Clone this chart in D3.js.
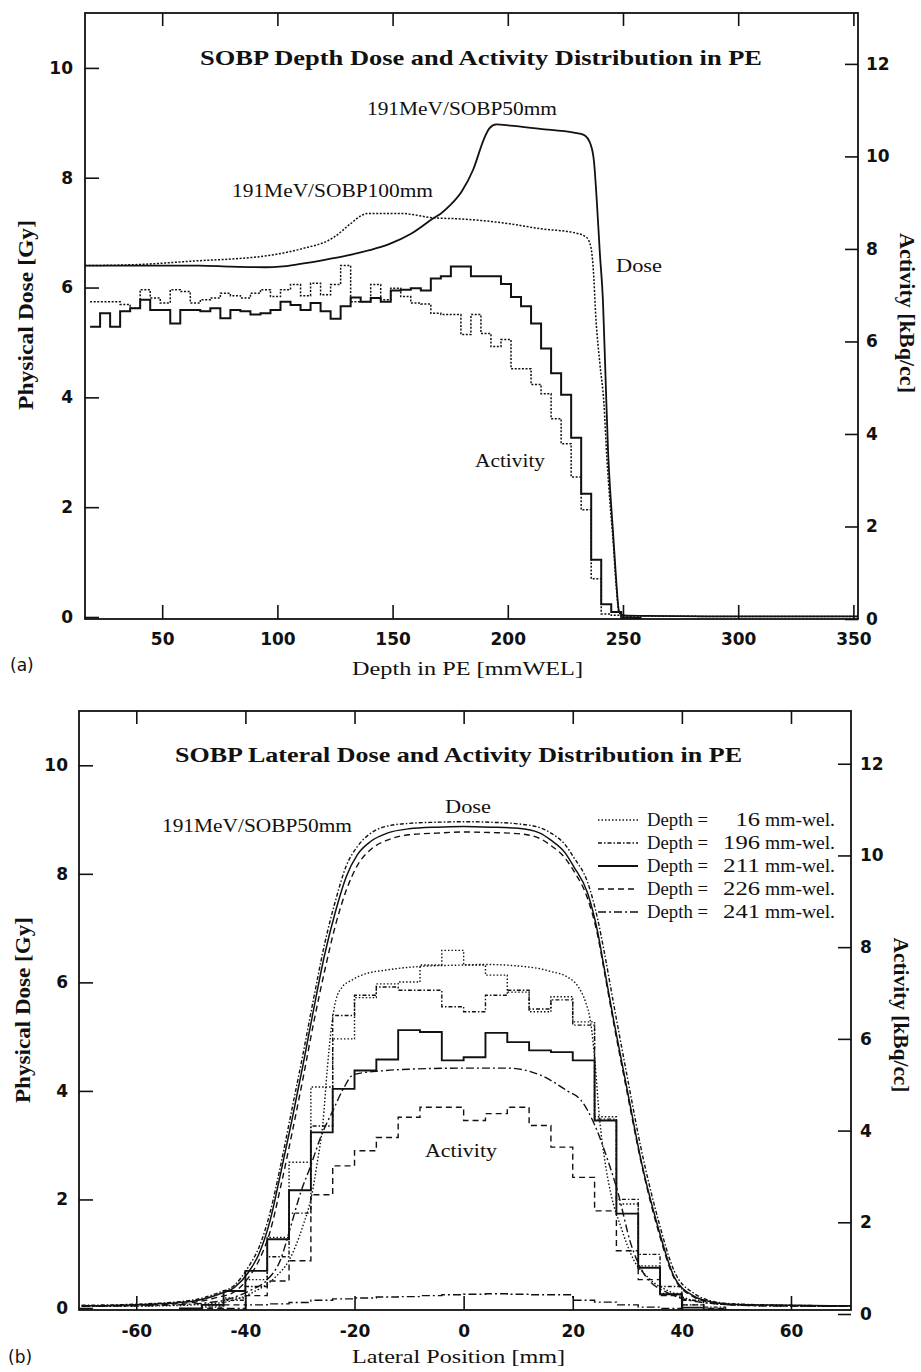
<!DOCTYPE html>
<html>
<head>
<meta charset="utf-8">
<script src="https://cdn.jsdelivr.net/npm/d3@7"></script>
<style>
  body { margin: 0; background: #fff; }
  svg { display: block; }
  .tick-label { font-family: "DejaVu Sans", sans-serif; font-weight: bold; font-size: 17px; fill: #111; }
  .serif { font-family: "Liberation Serif", "Times New Roman", serif; fill: #111; }
  .sans { font-family: "DejaVu Sans", sans-serif; fill: #111; }
</style>
</head>
<body>
<svg id="chart" width="921" height="1372"></svg>
<script>
// ---------- data: (a) depth distributions ----------
const depthTicks = [50, 100, 150, 200, 250, 300, 350];
const doseTicks = [0, 2, 4, 6, 8, 10];
const activityTicks = [0, 2, 4, 6, 8, 10, 12];

// 191MeV / SOBP 50mm depth dose [Gy]
const doseDepth50 = [16.5, 30, 50, 66, 80, 95, 101, 110, 120, 130, 140, 149, 158, 168, 171, 175, 180, 185, 189.6, 192, 195, 201, 214, 228.7, 233, 236, 237.4, 238.6, 240, 241.3, 242.4, 243.5, 244.6, 245.7, 247, 248.3, 250, 260, 300, 352];
const dose50 = [6.40, 6.40, 6.40, 6.40, 6.38, 6.37, 6.38, 6.43, 6.50, 6.58, 6.68, 6.80, 6.98, 7.27, 7.35, 7.50, 7.75, 8.15, 8.70, 8.90, 8.97, 8.95, 8.89, 8.82, 8.78, 8.60, 8.30, 7.60, 6.60, 5.76, 4.40, 3.04, 2.20, 1.53, 0.70, 0.10, 0.03, 0.02, 0.01, 0.01];

// 191MeV / SOBP 100mm depth dose [Gy]
const doseDepth100 = [16.5, 40, 66.5, 80, 95.6, 110, 124.3, 131.7, 136, 139, 153.5, 167.8, 179.6, 201, 214.3, 228.7, 234, 236, 237, 238.3, 240, 241.7, 243, 244.5, 245.7, 247, 248.3, 252, 300, 352];
const dose100 = [6.40, 6.42, 6.49, 6.52, 6.58, 6.70, 6.91, 7.16, 7.30, 7.35, 7.35, 7.27, 7.25, 7.16, 7.07, 7.00, 6.92, 6.75, 6.40, 5.40, 4.60, 3.90, 2.90, 2.00, 1.40, 0.60, 0.08, 0.02, 0.01, 0.01];

// activity histograms [kBq/cc], bins of 4.35 mm starting at 18.7 mm
const depthBinStart = 18.7;
const depthBinWidth = 4.35;
const activity50 = [6.32, 6.61, 6.32, 6.65, 6.72, 6.90, 6.68, 6.68, 6.39, 6.68, 6.68, 6.65, 6.72, 6.50, 6.68, 6.65, 6.58, 6.61, 6.68, 6.86, 6.79, 6.68, 6.83, 6.65, 6.49, 6.76, 6.95, 6.86, 6.94, 6.86, 7.10, 7.12, 7.15, 7.10, 7.36, 7.41, 7.62, 7.62, 7.41, 7.41, 7.41, 7.24, 6.96, 6.76, 6.39, 5.85, 5.31, 4.85, 3.92, 2.71, 1.28, 0.32, 0.15, 0.03, 0.02];
const activity100 = [6.86, 6.86, 6.86, 6.80, 6.72, 7.12, 6.94, 6.83, 7.12, 7.08, 6.83, 6.90, 6.94, 7.04, 6.99, 6.94, 7.04, 7.12, 6.97, 7.12, 7.23, 6.99, 7.26, 7.01, 7.23, 7.64, 6.86, 6.86, 7.23, 6.90, 7.15, 6.97, 6.83, 6.81, 6.61, 6.58, 6.58, 6.15, 6.58, 6.17, 5.89, 6.04, 5.41, 5.41, 5.07, 4.87, 4.33, 3.79, 3.07, 2.36, 0.87, 0.11, 0.08, 0.03, 0.02];

// ---------- data: (b) lateral distributions ----------
const lateralTicks = [-60, -40, -20, 0, 20, 40, 60];
const depthLabels = ['16', '196', '211', '226', '241'];

const latDoseX16 = [-70, -55, -45, -39, -34.5, -32, -29.5, -27.8, -26.8, -25.8, -25, -24.2, -23.4, -22.2, -20.7, -17.6, -14.7, -8.5, 0, 3.7, 12.9, 16, 19, 21, 22.3, 23.3, 24.1, 24.9, 25.9, 27, 28.8, 31.2, 33.7, 38.5, 44.8, 55, 71];
const latDose16 = [0.03, 0.04, 0.09, 0.27, 0.57, 0.88, 1.5, 2.1, 2.7, 3.4, 4.4, 5.2, 5.68, 5.92, 6.03, 6.17, 6.22, 6.29, 6.32, 6.33, 6.27, 6.2, 6.1, 5.92, 5.65, 5.25, 4.5, 3.5, 2.7, 2.1, 1.5, 0.88, 0.57, 0.27, 0.09, 0.04, 0.03];

const latDoseX = [-70, -60, -50, -45, -42, -39.5, -37.5, -35.5, -33.5, -31.5, -29.5, -27.5, -25.5, -23.5, -21.5, -19.5, -17, -14, -10, -5, 0, 5, 10, 14, 16, 18.5, 20.2, 22.7, 24.6, 25.7, 27.5, 30.1, 32.5, 35.6, 38.6, 42.2, 45, 49, 60, 71];
const latDose196 = [0.05, 0.07, 0.14, 0.28, 0.42, 0.75, 1.12, 1.75, 2.65, 3.65, 4.65, 5.7, 6.7, 7.5, 8.15, 8.5, 8.75, 8.88, 8.93, 8.95, 8.96, 8.95, 8.92, 8.85, 8.75, 8.55, 8.3, 7.85, 7.15, 6.6, 5.6, 4.2, 2.95, 1.65, 0.68, 0.27, 0.14, 0.08, 0.05, 0.04];
const latDose211 = [0.04, 0.06, 0.12, 0.25, 0.38, 0.65, 1.0, 1.6, 2.5, 3.45, 4.45, 5.5, 6.5, 7.3, 7.95, 8.35, 8.6, 8.75, 8.83, 8.86, 8.87, 8.86, 8.84, 8.75, 8.62, 8.4, 8.13, 7.65, 6.91, 6.3, 5.3, 3.96, 2.73, 1.5, 0.57, 0.22, 0.12, 0.07, 0.05, 0.04];
const latDose226 = [0.04, 0.05, 0.1, 0.2, 0.3, 0.55, 0.88, 1.4, 2.25, 3.2, 4.2, 5.25, 6.2, 7.05, 7.7, 8.15, 8.45, 8.62, 8.72, 8.75, 8.77, 8.76, 8.74, 8.65, 8.52, 8.3, 8.05, 7.55, 6.85, 6.25, 5.25, 3.9, 2.7, 1.45, 0.55, 0.2, 0.11, 0.06, 0.04, 0.03];

const latDoseX241 = [-70, -55, -45, -42, -39, -36, -33.6, -31.7, -29.9, -28.1, -26.2, -23.9, -22, -20.2, -15, -10, 0, 8, 14.1, 19, 21.5, 23.9, 26.4, 28.3, 30.6, 33, 37.4, 44.8, 55, 71];
const latDose241 = [0.03, 0.05, 0.12, 0.2, 0.33, 0.52, 0.88, 1.5, 2.12, 2.6, 3.15, 3.65, 4.05, 4.3, 4.37, 4.4, 4.42, 4.42, 4.29, 4.0, 3.83, 3.4, 2.73, 2.12, 1.2, 0.64, 0.28, 0.09, 0.04, 0.03];

// activity histograms [kBq/cc], 4 mm bins
const latBinEdges = [-72, -68, -64, -60, -56, -52, -48, -44, -40, -36, -32, -28, -24, -20, -16, -12, -8, -4, 0, 4, 8, 12, 16, 20, 24, 28, 32, 36, 40, 44, 48, 52, 56, 60, 64, 68];
const latBinWidth = 4;
const latAct16 = [0.05, 0.05, 0.05, 0.06, 0.07, 0.1, 0.18, 0.35, 0.75, 1.67, 3.31, 4.95, 6.0, 6.9, 7.2, 7.24, 7.61, 7.93, 7.61, 7.39, 7.02, 6.59, 6.92, 6.37, 4.3, 2.4, 1.05, 0.45, 0.2, 0.1, 0.07, 0.06, 0.05, 0.05, 0.05, 0.05];
const latAct196 = [0.05, 0.05, 0.05, 0.06, 0.07, 0.09, 0.15, 0.3, 0.6, 1.25, 2.2, 4.1, 6.51, 6.95, 7.13, 7.06, 7.06, 6.7, 6.59, 6.95, 7.06, 6.65, 6.85, 6.3, 4.25, 2.5, 1.3, 0.6, 0.3, 0.15, 0.08, 0.06, 0.05, 0.05, 0.05, 0.05];
const latAct211 = [0.05, 0.05, 0.06, 0.06, 0.08, 0.12, 0.2, 0.5, 0.94, 1.63, 2.7, 3.96, 4.91, 5.31, 5.55, 6.19, 6.15, 5.53, 5.6, 6.13, 5.93, 5.75, 5.71, 5.53, 4.22, 2.19, 1.01, 0.43, 0.14, 0.1, 0.08, 0.06, 0.05, 0.05, 0.05, 0.05];
const latAct226 = [0.04, 0.04, 0.05, 0.05, 0.06, 0.08, 0.12, 0.2, 0.4, 0.72, 1.16, 2.6, 3.23, 3.56, 3.85, 4.29, 4.51, 4.51, 4.22, 4.37, 4.51, 4.11, 3.64, 2.98, 2.25, 1.38, 0.75, 0.4, 0.2, 0.12, 0.08, 0.06, 0.05, 0.05, 0.04, 0.04];
const latAct241 = [0.03, 0.03, 0.04, 0.04, 0.05, 0.06, 0.08, 0.12, 0.2, 0.22, 0.25, 0.3, 0.33, 0.35, 0.37, 0.38, 0.4, 0.42, 0.43, 0.44, 0.43, 0.42, 0.42, 0.3, 0.26, 0.2, 0.15, 0.12, 0.08, 0.06, 0.05, 0.04, 0.04, 0.03, 0.03, 0.03];

// line style per depth (same for dose and activity)
const depthDash = ['1.5,2', '4,2,1.5,2', null, '6,4', '8,3,2,3'];

const ink = '#111';
const svg = d3.select('#chart');

function drawPanel(cfg) {
    const vis = {};
    vis.x = d3.scaleLinear().domain(cfg.xDomain).range([cfg.left, cfg.right]);
    vis.yDose = d3.scaleLinear().domain([0, 11]).range([cfg.doseZero, cfg.top]);
    vis.yAct = d3.scaleLinear().domain([0, cfg.actMax]).range([cfg.actZero, cfg.top]);
    vis.g = svg.append('g');

    svg.append('clipPath').attr('id', cfg.id)
        .append('rect')
        .attr('x', cfg.left).attr('y', cfg.top)
        .attr('width', cfg.right - cfg.left).attr('height', cfg.bottom - cfg.top);
    vis.plot = vis.g.append('g').attr('clip-path', `url(#${cfg.id})`);

    const styleAxis = g => {
        g.select('.domain').remove();
        g.selectAll('.tick line').attr('stroke', ink).attr('stroke-width', 1.6);
        g.selectAll('.tick text').attr('class', 'tick-label');
    };

    // ticks point inwards on all four sides
    vis.g.append('g')
        .attr('transform', `translate(0,${cfg.bottom})`)
        .call(d3.axisBottom(vis.x).tickValues(cfg.xTicks).tickSizeInner(-14).tickSizeOuter(0)
            .tickPadding(cfg.xPad).tickFormat(d => String(d)))
        .call(styleAxis);
    vis.g.append('g')
        .attr('transform', `translate(0,${cfg.top})`)
        .call(d3.axisTop(vis.x).tickValues(cfg.xTicks).tickSizeInner(-13).tickSizeOuter(0).tickFormat(''))
        .call(styleAxis);
    vis.g.append('g')
        .attr('transform', `translate(${cfg.left},0)`)
        .call(d3.axisLeft(vis.yDose).tickValues(doseTicks).tickSizeInner(-14).tickSizeOuter(0)
            .tickPadding(cfg.yPad).tickFormat(d => String(d)))
        .call(styleAxis);
    vis.g.append('g')
        .attr('transform', `translate(${cfg.right},0)`)
        .call(d3.axisRight(vis.yAct).tickValues(activityTicks).tickSizeInner(-13).tickSizeOuter(0)
            .tickPadding(cfg.rPad).tickFormat(d => String(d)))
        .call(styleAxis);

    // frame
    vis.g.append('rect')
        .attr('x', cfg.left).attr('y', cfg.top)
        .attr('width', cfg.right - cfg.left).attr('height', cfg.bottom - cfg.top)
        .attr('fill', 'none').attr('stroke', ink).attr('stroke-width', 1.8);

    vis.doseLine = d3.line()
        .x(d => vis.x(d[0])).y(d => vis.yDose(d[1]))
        .curve(d3.curveMonotoneX);
    vis.stepLine = d3.line()
        .x(d => vis.x(d[0])).y(d => vis.yAct(d[1]))
        .curve(d3.curveStepAfter);
    return vis;
}

function addDose(vis, xs, ys, dash, width) {
    vis.plot.append('path')
        .datum(d3.zip(xs, ys))
        .attr('d', vis.doseLine)
        .attr('fill', 'none').attr('stroke', ink)
        .attr('stroke-width', width)
        .attr('stroke-dasharray', dash);
}

function addHist(vis, edges, width, vals, dash, lw) {
    const pts = edges.map((e, i) => [e, vals[i]]);
    pts.push([edges[edges.length - 1] + width, vals[vals.length - 1]]);
    vis.plot.append('path')
        .datum(pts)
        .attr('d', vis.stepLine)
        .attr('fill', 'none').attr('stroke', ink)
        .attr('stroke-width', lw)
        .attr('stroke-dasharray', dash);
}

function addText(txt, x, y, size, opts = {}) {
    const t = svg.append('text')
        .attr('class', opts.cls || 'serif')
        .attr('x', x).attr('y', y)
        .attr('font-size', size)
        .attr('font-weight', opts.bold ? 'bold' : 'normal')
        .attr('text-anchor', opts.anchor || 'start')
        .text(txt);
    if (opts.len) t.attr('textLength', opts.len).attr('lengthAdjust', 'spacingAndGlyphs');
    if (opts.rotate) {
        t.attr('x', 0).attr('y', 0)
            .attr('transform', `translate(${x},${y}) rotate(${opts.rotate})`);
    }
    return t;
}

// ---------- (a) depth dose / activity ----------
const panelA = drawPanel({
    id: 'clip-a', left: 85, right: 858, top: 13, bottom: 619,
    doseZero: 617, actZero: 619, actMax: 13.1,
    xDomain: [16.5, 352], xTicks: depthTicks, xPad: 14, yPad: 12, rPad: 8
});
const depthEdges = activity50.map((v, i) => depthBinStart + i * depthBinWidth);
addHist(panelA, depthEdges, depthBinWidth, activity100, '2,1.6', 1.5);
addHist(panelA, depthEdges, depthBinWidth, activity50, null, 2);
addDose(panelA, doseDepth100, dose100, '2,1.6', 1.5);
addDose(panelA, doseDepth50, dose50, null, 1.8);

addText('SOBP Depth Dose and Activity Distribution in PE', 481, 65, 22, { bold: true, anchor: 'middle', len: 562 });
addText('191MeV/SOBP50mm', 367, 115, 18, { len: 190 });
addText('191MeV/SOBP100mm', 232, 197, 18, { len: 201 });
addText('Dose', 616, 272, 19, { len: 46 });
addText('Activity', 475, 467, 19, { len: 70 });
addText('Depth in PE [mmWEL]', 352, 675, 19, { len: 231 });
addText('Physical Dose [Gy]', 33, 315, 20, { bold: true, anchor: 'middle', len: 190, rotate: -90 });
addText('Activity [kBq/cc]', 900, 313, 20, { bold: true, anchor: 'middle', len: 160, rotate: 90 });
addText('(a)', 10, 671, 17, { cls: 'sans' });

// ---------- (b) lateral dose / activity ----------
const panelB = drawPanel({
    id: 'clip-b', left: 79, right: 851, top: 711, bottom: 1310,
    doseZero: 1308, actZero: 1314, actMax: 13.15,
    xDomain: [-70.5, 71], xTicks: lateralTicks, xPad: 15, yPad: 11, rPad: 9
});
const latActs = [latAct16, latAct196, latAct211, latAct226, latAct241];
latActs.forEach((vals, i) => {
    addHist(panelB, latBinEdges, latBinWidth, vals, depthDash[i], i === 2 ? 1.9 : 1.4);
});
addDose(panelB, latDoseX16, latDose16, depthDash[0], 1.4);
addDose(panelB, latDoseX, latDose196, depthDash[1], 1.4);
addDose(panelB, latDoseX, latDose211, depthDash[2], 1.5);
addDose(panelB, latDoseX, latDose226, depthDash[3], 1.4);
addDose(panelB, latDoseX241, latDose241, depthDash[4], 1.4);

addText('SOBP Lateral Dose and Activity Distribution in PE', 458.5, 762, 22, { bold: true, anchor: 'middle', len: 567 });
addText('191MeV/SOBP50mm', 162, 832, 18, { len: 190 });
addText('Dose', 445, 813, 19, { len: 46 });
addText('Activity', 425, 1157, 19, { len: 72 });
addText('Lateral Position [mm]', 352, 1363, 19, { len: 213 });
addText('Physical Dose [Gy]', 30, 1010, 20, { bold: true, anchor: 'middle', len: 186, rotate: -90 });
addText('Activity [kBq/cc]', 894, 1015, 20, { bold: true, anchor: 'middle', len: 155, rotate: 90 });
addText('(b)', 8, 1363, 17, { cls: 'sans' });

// legend
const legendY = [826, 849, 872, 895, 918];
depthLabels.forEach((lab, i) => {
    const y = legendY[i];
    svg.append('line')
        .attr('x1', 598).attr('x2', 638)
        .attr('y1', y - 6).attr('y2', y - 6)
        .attr('stroke', ink).attr('stroke-width', i === 2 ? 1.8 : 1.4)
        .attr('stroke-dasharray', depthDash[i]);
    addText('Depth =', 647, y, 18, { len: 61 });
    addText(lab, 760, y, 18, { anchor: 'end', len: lab.length * 12.3 });
    addText('mm-wel.', 765, y, 18, { len: 70 });
});
</script>
</body>
</html>
